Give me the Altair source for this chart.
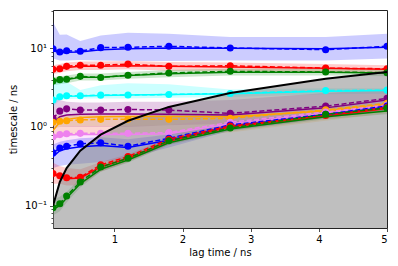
import altair as alt
import pandas as pd

lags = [0.1, 0.2, 0.3, 0.5, 0.8, 1.2, 1.8, 2.7, 4.1, 5.0]

colors = ["#0000ff", "#ff0000", "#008000", "#00ffff", "#800080",
          "#ffa500", "#ee82ee", "#0000ff", "#ff0000", "#008000"]

# process 1 (blue)
p1_ml = [9.9, 9.0, 9.3, 9.2, 10.2, 10.3, 10.6, 10.1, 9.6, 10.6]
p1_mean = [9.4, 8.7, 8.9, 9.0, 9.6, 9.9, 10.1, 10.0, 9.9, 10.3]
p1_lo = [7.4, 7.0, 7.0, 7.1, 7.0, 6.9, 6.9, 7.0, 7.0, 7.4]
p1_hi = [21.5, 14.9, 15.0, 12.4, 14.6, 15.8, 15.3, 13.9, 13.9, 15.3]
# process 2 (red)
p2_ml = [5.4, 5.5, 5.9, 6.1, 6.1, 6.3, 5.9, 6.0, 5.6, 5.5]
p2_mean = [5.3, 5.5, 5.7, 5.9, 5.9, 6.0, 5.9, 5.8, 5.6, 5.4]
p2_lo = [4.7, 4.9, 5.1, 5.3, 5.3, 5.4, 5.2, 5.2, 5.0, 4.9]
p2_hi = [6.1, 6.3, 6.6, 6.8, 6.8, 6.9, 6.7, 6.6, 6.3, 6.1]
# process 3 (green)
p3_ml = [3.83, 4.0, 4.05, 4.4, 4.26, 4.55, 4.86, 5.1, 5.0, 4.9]
p3_mean = [3.8, 3.95, 4.0, 4.3, 4.3, 4.5, 4.75, 4.95, 4.95, 4.85]
p3_lo = [3.4, 3.5, 3.6, 3.9, 3.9, 4.1, 4.3, 4.5, 4.5, 4.4]
p3_hi = [4.3, 4.4, 4.5, 4.8, 4.8, 5.0, 5.3, 5.5, 5.5, 5.4]
# process 4 (cyan)
p4_ml = [2.2, 2.42, 2.49, 2.5, 2.54, 2.55, 2.59, 2.67, 2.9, 2.94]
p4_mean = [2.15, 2.4, 2.45, 2.48, 2.52, 2.55, 2.58, 2.65, 2.85, 2.9]
p4_lo = [1.8, 2.2, 2.25, 2.3, 2.3, 2.3, 2.35, 2.4, 2.6, 2.65]
p4_hi = [3.4, 4.25, 3.75, 2.95, 3.4, 3.6, 3.5, 3.0, 3.1, 3.1]
# process 5 (purple)
p5_ml = [1.29, 1.59, 1.70, 1.64, 1.64, 1.67, 1.64, 1.49, 1.84, 2.31]
p5_mean = [1.12, 1.35, 1.42, 1.45, 1.46, 1.46, 1.45, 1.42, 1.75, 2.2]
p5_lo = [0.95, 1.0, 1.0, 1.0, 1.0, 1.0, 1.05, 1.1, 1.55, 1.9]
p5_hi = [2.3, 2.2, 2.1, 2.05, 2.05, 2.1, 2.1, 2.2, 2.7, 3.0]
# process 6 (orange)
p6_ml = [1.15, 1.18, 1.2, 1.23, 1.25, 1.25, 1.25, 1.29, 1.65, 2.0]
p6_mean = [0.9, 1.15, 1.25, 1.32, 1.35, 1.36, 1.36, 1.35, 1.6, 1.95]
p6_lo = [0.7, 0.75, 0.78, 0.8, 0.8, 0.8, 0.8, 0.85, 1.2, 1.5]
p6_hi = [1.35, 1.4, 1.42, 1.45, 1.45, 1.45, 1.45, 1.45, 1.8, 2.1]
# process 7 (violet)
p7_ml = [0.75, 0.8, 0.82, 0.83, 0.83, 0.83, 0.85, 1.15, 1.55, 1.9]
p7_mean = [0.72, 0.77, 0.79, 0.8, 0.8, 0.8, 0.82, 1.1, 1.5, 1.85]
p7_lo = [0.55, 0.6, 0.62, 0.63, 0.63, 0.63, 0.65, 0.9, 1.3, 1.6]
p7_hi = [0.95, 1.0, 1.02, 1.03, 1.03, 1.03, 1.05, 1.3, 1.7, 2.05]
# process 8 (blue)
p8_ml = [0.47, 0.54, 0.57, 0.61, 0.63, 0.57, 0.72, 1.06, 1.45, 1.85]
p8_mean = [0.42, 0.5, 0.53, 0.56, 0.58, 0.55, 0.68, 1.02, 1.42, 1.8]
p8_lo = [0.3, 0.32, 0.33, 0.34, 0.36, 0.4, 0.55, 0.9, 1.3, 1.65]
p8_hi = [0.6, 0.65, 0.68, 0.72, 0.74, 0.7, 0.8, 1.15, 1.55, 1.95]
# process 9 (red)
p9_ml = [0.256, 0.24, 0.226, 0.23, 0.33, 0.42, 0.70, 1.03, 1.4, 1.78]
p9_mean = [0.25, 0.235, 0.22, 0.225, 0.31, 0.4, 0.66, 1.0, 1.37, 1.72]
p9_lo = [0.19, 0.19, 0.18, 0.18, 0.27, 0.36, 0.6, 0.93, 1.3, 1.62]
p9_hi = [0.35, 0.32, 0.3, 0.29, 0.36, 0.45, 0.73, 1.08, 1.45, 1.82]
# process 10 (green)
p10_ml = [0.094, 0.106, 0.133, 0.2, 0.31, 0.40, 0.67, 0.97, 1.45, 1.74]
p10_mean = [0.09, 0.1, 0.125, 0.19, 0.29, 0.38, 0.63, 0.94, 1.35, 1.6]
p10_lo = [0.075, 0.085, 0.11, 0.17, 0.27, 0.35, 0.59, 0.88, 1.25, 1.45]
p10_hi = [0.12, 0.13, 0.15, 0.22, 0.33, 0.43, 0.7, 1.02, 1.5, 1.8]

procs = [
    (p1_ml, p1_mean, p1_lo, p1_hi), (p2_ml, p2_mean, p2_lo, p2_hi),
    (p3_ml, p3_mean, p3_lo, p3_hi), (p4_ml, p4_mean, p4_lo, p4_hi),
    (p5_ml, p5_mean, p5_lo, p5_hi), (p6_ml, p6_mean, p6_lo, p6_hi),
    (p7_ml, p7_mean, p7_lo, p7_hi), (p8_ml, p8_mean, p8_lo, p8_hi),
    (p9_ml, p9_mean, p9_lo, p9_hi), (p10_ml, p10_mean, p10_lo, p10_hi),
]

y_domain = [0.052, 30.7]
x_domain = [0.1, 5.0]
y_major = [0.1, 1, 10]
y_minor = [0.06, 0.07, 0.08, 0.09, 0.2, 0.3, 0.4, 0.5, 0.6, 0.7, 0.8, 0.9,
           2, 3, 4, 5, 6, 7, 8, 9, 20, 30]

FONT = "DejaVu Sans"

xs = alt.Scale(domain=x_domain, nice=False, zero=False)
ys = alt.Scale(type="log", domain=y_domain, nice=False, clamp=True)

x_axis = alt.Axis(values=[1, 2, 3, 4, 5], format="d", title="lag time / ns",
                  tickSize=3.5, labelPadding=3, titlePadding=3, grid=False,
                  domain=False)
y_axis = alt.Axis(values=y_major, title="timescale / ns", tickSize=3.5,
                  labelPadding=3, titlePadding=6, grid=False, domain=False,
                  labelExpr="datum.value < 0.5 ? '10⁻¹' : (datum.value < 5 ? '10⁰' : '10¹')")
y_axis_minor = alt.Axis(values=y_minor, title=None, tickSize=2, labels=False,
                        grid=False, domain=False, orient="left")

X = alt.X("lag:Q", scale=xs, axis=x_axis)

frames = []
for i, (ml, mean, lo, hi) in enumerate(procs):
    frames.append(pd.DataFrame({"lag": lags, "ml": ml, "mean": mean,
                                "lo": lo, "hi": hi, "proc": i}))

band_layers = []
for i, d in enumerate(frames):
    band_layers.append(
        alt.Chart(d).mark_area(color=colors[i], opacity=0.2, clip=True).encode(
            x=X, y=alt.Y("lo:Q", scale=ys, axis=None), y2="hi:Q"))

lag_df = pd.DataFrame({"lag": lags})
gray = alt.Chart(lag_df).mark_area(color="#808080", opacity=0.5, clip=True).encode(
    x=X, y=alt.Y("lag:Q", scale=ys, axis=None), y2=alt.datum(y_domain[0]))

line_layers = []
for i, d in enumerate(frames):
    line_layers.append(
        alt.Chart(d).mark_line(color=colors[i], strokeWidth=1.5, clip=True).encode(
            x=X, y=alt.Y("mean:Q", scale=ys, axis=None)))
    line_layers.append(
        alt.Chart(d).mark_line(color=colors[i], strokeWidth=1.5, strokeDash=[5, 2.5],
                               clip=True).encode(
            x=X, y=alt.Y("ml:Q", scale=ys, axis=None)))
    line_layers.append(
        alt.Chart(d).mark_circle(color=colors[i], size=50, opacity=1, clip=True).encode(
            x=X, y=alt.Y("ml:Q", scale=ys, axis=None)))

black = alt.Chart(lag_df).mark_line(color="black", strokeWidth=2, clip=True).encode(
    x=X, y=alt.Y("lag:Q", scale=ys, axis=y_axis))

minor = alt.Chart(lag_df).mark_point(opacity=0).encode(
    x=X, y=alt.Y("lag:Q", scale=ys, axis=y_axis_minor))

chart = alt.layer(*band_layers, gray, *line_layers, black, minor).resolve_axis(
    y="independent"
).properties(
    width=334, height=218,
    autosize=alt.AutoSizeParams(type="none"),
    padding={"left": 53, "top": 10, "right": 11, "bottom": 38},
    background="white",
).configure_view(
    stroke="#222222", strokeWidth=1
).configure_axis(
    labelFont=FONT, titleFont=FONT, labelFontSize=10, titleFontSize=10,
    titleFontWeight="normal", labelColor="black", titleColor="black",
    tickColor="#222222", tickWidth=0.8
)

chart.save("out.html", embed_options={"renderer": "svg", "actions": False})
